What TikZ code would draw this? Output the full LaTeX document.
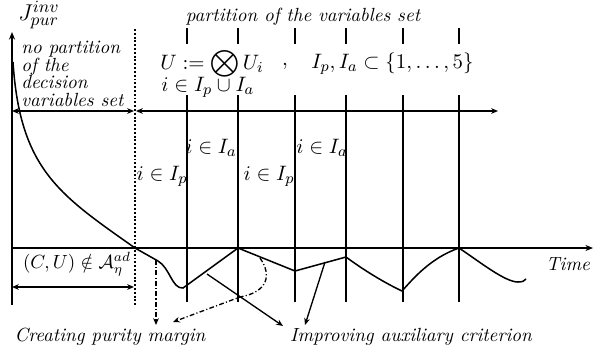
\documentclass[tikz,border=0pt]{standalone}
\usetikzlibrary{arrows.meta}
\begin{document}
\begin{tikzpicture}[x=0.525pt,y=-0.525pt,
  tip/.style={-{Stealth[length=3.6pt,width=3pt]}},
  dtip/.style={{Stealth[length=3.6pt,width=3pt]}-{Stealth[length=3.6pt,width=3pt]}},
  axis/.style={line width=0.7pt,-{Stealth[length=4pt,width=3.2pt]}},
  vline/.style={line width=0.9pt},
  crv/.style={line width=0.8pt},
  dashdot/.style={line width=0.7pt,dash pattern=on 2.5pt off 1.2pt on 0.6pt off 1.2pt},
  lbl/.style={inner sep=0pt,font=\itshape},
  mlbl/.style={inner sep=0pt,font=\fontsize{11}{13}\selectfont}]
\useasboundingbox (0,0) rectangle (594,352);
% axes
\coordinate (yb) at (12,305); \coordinate (yt) at (12,32);
\draw[axis] (yb) -- (yt);
\coordinate (tl) at (12,248); \coordinate (tr) at (593,248);
\draw[axis] (tl) -- (tr);
\node[inner sep=0pt,font=\fontsize{13}{15}\selectfont] (J) at (39,15) {$J^{inv}_{pur}$};
\node[lbl] (time) at (568,264) {Time};
% dotted separator
\coordinate (d1) at (135,29); \coordinate (d2) at (135,305);
\draw[densely dotted,line width=1pt] (d1) -- (d2);
% partition lines
\foreach \x in {187,238,295,346,403,459}{
  \draw[vline] (\x,28) -- (\x,44);
  \draw[vline] (\x,95) -- (\x,302);
}
% top double arrows
\coordinate (a1) at (12,111); \coordinate (a2) at (134,111);
\coordinate (a3) at (136,111); \coordinate (a4) at (498,111);
\draw[dtip,line width=0.7pt] (a1) -- (a2);
\draw[dtip,line width=0.7pt] (a3) -- (a4);
% bottom double arrow
\coordinate (b1) at (12,287); \coordinate (b2) at (134,287);
\draw[dtip,line width=0.7pt] (b1) -- (b2);
% texts
\node[lbl] (part) at (303,17) {partition of the variables set};
\node[lbl,anchor=north west,align=left,font=\itshape\fontsize{10}{9.2}\selectfont] (nopart) at (21,41)
  {no partition\\of the\\decision\\variables set};
\node[mlbl,anchor=west] (uf) at (160,64) {$\displaystyle U:=\bigotimes U_i$};
\node[mlbl] (comma) at (285,66) {$,$};
\node[mlbl,anchor=west] (ipa) at (311,64) {$I_p,I_a\subset\{1,\ldots,5\}$};
\node[mlbl,anchor=west] (iu) at (161,87) {$i\in I_p\cup I_a$};
\node[mlbl] (ip1) at (162,176) {$i\in I_p$};
\node[mlbl] (ia1) at (211,148) {$i\in I_a$};
\node[mlbl] (ip2) at (269,176) {$i\in I_p$};
\node[mlbl] (ia2) at (322,148) {$i\in I_a$};
\node[inner sep=0pt] (cu) at (77,264) {$(C,U)\notin\mathcal{A}^{ad}_{\eta}$};
\node[lbl] (cpm) at (110,337) {Creating purity margin};
\node[lbl] (iac) at (411,337) {Improving auxiliary criterion};
% criterion curve
\coordinate (c0) at (13,62);
\draw[crv] (c0) .. controls (20,170) and (60,195) .. (135,248)
  -- (158,261) .. controls (170,268) and (172,289) .. (183,288)
  -- (238,248) -- (295,271) -- (346,257)
  .. controls (365,271) and (385,283) .. (402,291)
  .. controls (412,280) and (430,258) .. (459,248)
  .. controls (480,262) and (505,282) .. (518,282)
  .. controls (522,282) and (525,281) .. (526,279);
% annotation arrows
\coordinate (p1) at (156,260); \coordinate (p1e) at (156,325);
\draw[dashdot,tip] (p1) -- (p1e);
\coordinate (p2) at (260,258); \coordinate (p2m) at (240,297); \coordinate (p2e) at (173,322);
\draw[dashdot,tip] (p2) .. controls (272,275) and (268,292) .. (p2m) -- (p2e);
\coordinate (q1) at (207,274); \coordinate (q1e) at (283,326);
\draw[tip,line width=0.7pt] (q1) -- (q1e);
\coordinate (q2) at (325,262); \coordinate (q2e) at (305,325);
\draw[tip,line width=0.7pt] (q2) -- (q2e);
\end{tikzpicture}
\end{document}
